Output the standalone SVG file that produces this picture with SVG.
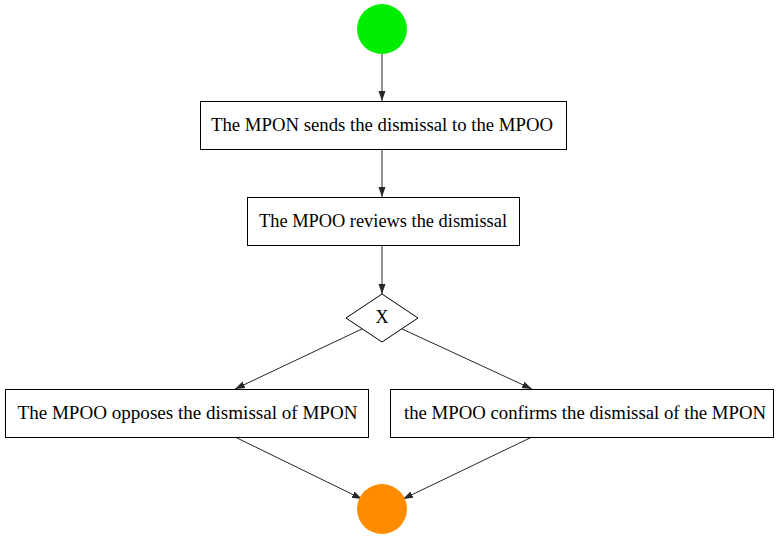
<svg xmlns="http://www.w3.org/2000/svg" width="778" height="539" viewBox="0 0 778 539">
<style>
.box{fill:#fff;stroke:#000;stroke-width:1}
.t{font-family:"Liberation Serif","Times New Roman","DejaVu Serif",serif;font-size:18px;fill:#000;text-anchor:middle}
.e{fill:none;stroke:#262626;stroke-width:1}
</style>
<defs>
<marker id="ah" viewBox="0 0 10 10" refX="10" refY="5" markerWidth="10" markerHeight="10" markerUnits="userSpaceOnUse" orient="auto">
<path d="M0,1.5 L10,5 L0,8.5 Z" fill="#262626"/>
</marker>
</defs>
<g id="edges">
<path class="e" d="M382,54 L382,101" marker-end="url(#ah)"/>
<path class="e" d="M382,149 L382,197" marker-end="url(#ah)"/>
<path class="e" d="M382,245 L382,294" marker-end="url(#ah)"/>
<path class="e" d="M364,328 L235,389" marker-end="url(#ah)"/>
<path class="e" d="M400,328 L532,389" marker-end="url(#ah)"/>
<path class="e" d="M235,437 L362,499" marker-end="url(#ah)"/>
<path class="e" d="M532,437 L403,499" marker-end="url(#ah)"/>
</g>
<g id="start"><circle cx="382" cy="29" r="25" fill="#00ee00"/></g>
<g id="n1"><rect class="box" x="200.5" y="101.5" width="366" height="48"/><text class="t" x="382" y="131" textLength="342" lengthAdjust="spacingAndGlyphs">The MPON sends the dismissal to the MPOO</text></g>
<g id="n2"><rect class="box" x="247.5" y="197.5" width="272" height="48"/><text class="t" x="383" y="227" textLength="248" lengthAdjust="spacingAndGlyphs">The MPOO reviews the dismissal</text></g>
<g id="gw"><polygon class="box" points="382,294 418,318 382,342 346,318"/><text class="t" x="382" y="323">X</text></g>
<g id="n3"><rect class="box" x="5.5" y="389.5" width="363" height="48"/><text class="t" x="187.5" y="419" textLength="340" lengthAdjust="spacingAndGlyphs">The MPOO opposes the dismissal of MPON</text></g>
<g id="n4"><rect class="box" x="390.5" y="389.5" width="383" height="48"/><text class="t" x="585" y="419" textLength="362" lengthAdjust="spacingAndGlyphs">the MPOO confirms the dismissal of the MPON</text></g>
<g id="end"><circle cx="382" cy="509" r="25" fill="#ff8c00"/></g>
</svg>
